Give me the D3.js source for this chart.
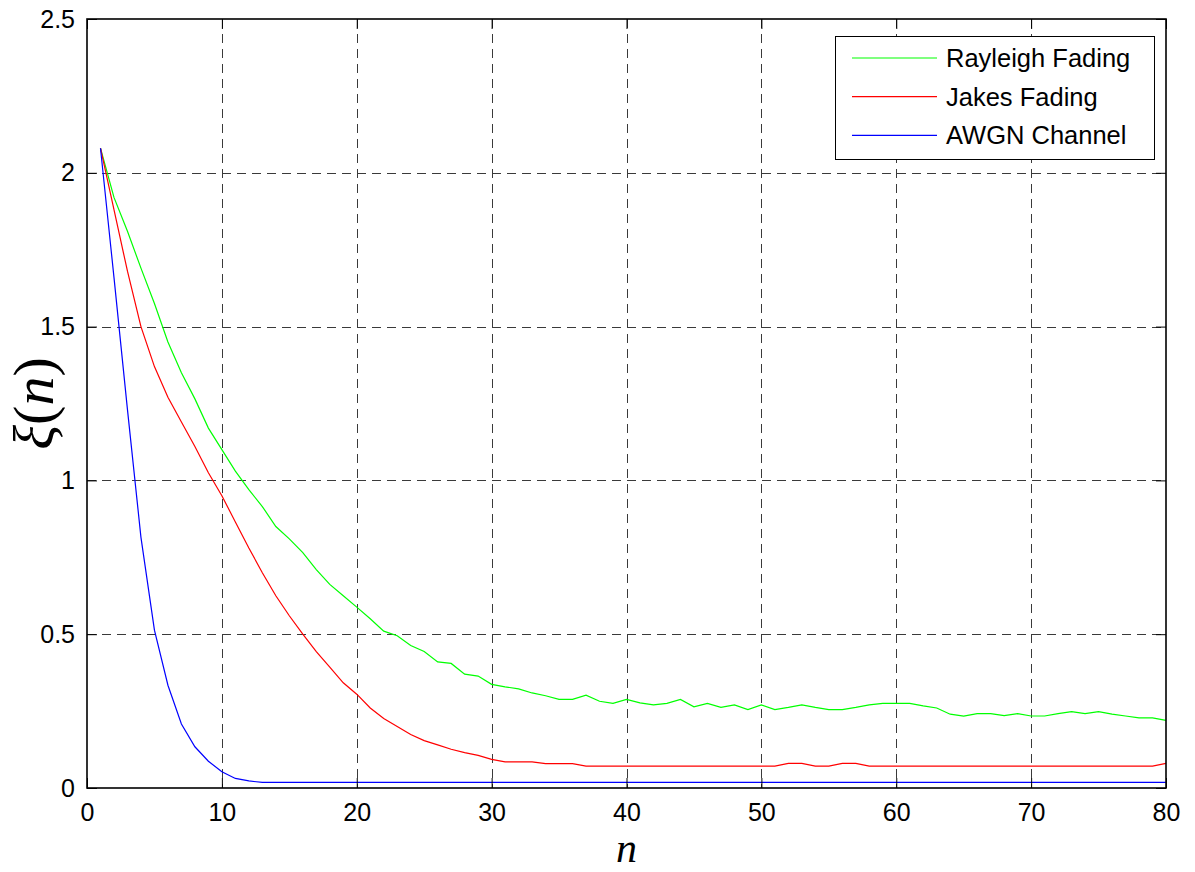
<!DOCTYPE html>
<html>
<head>
<meta charset="utf-8">
<script src="https://cdn.jsdelivr.net/npm/d3@7"></script>
<style>
  html, body { margin: 0; padding: 0; background: #fff; }
  svg { display: block; }
  .tick text { font-family: "Liberation Sans", Arial, Helvetica, sans-serif; }
</style>
</head>
<body>
<svg id="chart" width="1195" height="872"></svg>
<script>
// Iteration index n = 1..80
const n = d3.range(1, 81);

// Mean-square error ξ(n) for each channel model
const rayleigh = [
  2.08, 1.92, 1.81, 1.69, 1.575, 1.45, 1.35, 1.265, 1.17, 1.10,
  1.03, 0.97, 0.915, 0.85, 0.81, 0.765, 0.71, 0.662, 0.625, 0.588,
  0.55, 0.51, 0.495, 0.463, 0.444, 0.41, 0.405, 0.37, 0.364, 0.337,
  0.329, 0.322, 0.309, 0.30, 0.288, 0.288, 0.302, 0.282, 0.275, 0.288,
  0.277, 0.27, 0.275, 0.288, 0.264, 0.275, 0.262, 0.27, 0.255, 0.27,
  0.255, 0.262, 0.27, 0.262, 0.255, 0.255, 0.262, 0.27, 0.275, 0.275,
  0.275, 0.267, 0.26, 0.24, 0.234, 0.242, 0.242, 0.235, 0.242, 0.234,
  0.234, 0.242, 0.248, 0.242, 0.248, 0.24, 0.234, 0.228, 0.228, 0.22
];
const jakes = [
  2.08, 1.88, 1.68, 1.50, 1.37, 1.27, 1.19, 1.11, 1.025, 0.95,
  0.865, 0.78, 0.70, 0.625, 0.56, 0.50, 0.443, 0.393, 0.342, 0.305,
  0.26, 0.226, 0.20, 0.174, 0.154, 0.14, 0.126, 0.115, 0.106, 0.093,
  0.085, 0.085, 0.085, 0.079, 0.079, 0.079, 0.071, 0.071, 0.071, 0.071,
  0.071, 0.071, 0.071, 0.071, 0.071, 0.071, 0.071, 0.071, 0.071, 0.071,
  0.071, 0.08, 0.08, 0.071, 0.071, 0.08, 0.08, 0.071, 0.071, 0.071,
  0.071, 0.071, 0.071, 0.071, 0.071, 0.071, 0.071, 0.071, 0.071, 0.071,
  0.071, 0.071, 0.071, 0.071, 0.071, 0.071, 0.071, 0.071, 0.071, 0.08
];
const awgn = [
  2.08, 1.66, 1.23, 0.815, 0.513, 0.334, 0.208, 0.134, 0.087, 0.053,
  0.031, 0.023, 0.018, 0.018, 0.018, 0.018, 0.018, 0.018, 0.018, 0.018,
  0.018, 0.018, 0.018, 0.018, 0.018, 0.018, 0.018, 0.018, 0.018, 0.018,
  0.018, 0.018, 0.018, 0.018, 0.018, 0.018, 0.018, 0.018, 0.018, 0.018,
  0.018, 0.018, 0.018, 0.018, 0.018, 0.018, 0.018, 0.018, 0.018, 0.018,
  0.018, 0.018, 0.018, 0.018, 0.018, 0.018, 0.018, 0.018, 0.018, 0.018,
  0.018, 0.018, 0.018, 0.018, 0.018, 0.018, 0.018, 0.018, 0.018, 0.018,
  0.018, 0.018, 0.018, 0.018, 0.018, 0.018, 0.018, 0.018, 0.018, 0.018
];

const seriesNames = ["Rayleigh Fading", "Jakes Fading", "AWGN Channel"];
const seriesColors = ["#00ff00", "#ff0000", "#0000ff"];
const seriesValues = [rayleigh, jakes, awgn];

const xTicks = [0, 10, 20, 30, 40, 50, 60, 70, 80];
const yTicks = [0, 0.5, 1, 1.5, 2, 2.5];

// Plot box
const plotL = 87, plotR = 1166, plotT = 19, plotB = 788;
const svg = d3.select("#chart");

const x = d3.scaleLinear().domain([0, 80]).range([plotL, plotR]);
const y = d3.scaleLinear().domain([0, 2.5]).range([plotB, plotT]);

// Dashed grid
const grid = svg.append("g").attr("stroke", "#3a3a3a").attr("stroke-width", 1)
  .attr("stroke-dasharray", "9,6").attr("shape-rendering", "crispEdges");
grid.selectAll(".gx").data(xTicks.slice(1, -1)).join("line")
  .attr("x1", d => Math.round(x(d)) + 0.5).attr("x2", d => Math.round(x(d)) + 0.5)
  .attr("y1", plotT).attr("y2", plotB);
grid.selectAll(".gy").data(yTicks.slice(1, -1)).join("line")
  .attr("y1", d => Math.round(y(d)) + 0.5).attr("y2", d => Math.round(y(d)) + 0.5)
  .attr("x1", plotL).attr("x2", plotR);

// Series lines
const line = d3.line().x((d, i) => x(n[i])).y(d => y(d));
seriesValues.forEach((vals, k) => {
  svg.append("path").datum(vals)
    .attr("fill", "none")
    .attr("stroke", seriesColors[k])
    .attr("stroke-width", 1.2)
    .attr("d", line);
});

// Axes (inward ticks on all four sides)
const tickLen = 10;
const fontSize = 25;
const xAxisB = d3.axisBottom(x).tickValues(xTicks).tickSizeInner(-tickLen).tickSizeOuter(0).tickPadding(15);
const xAxisT = d3.axisTop(x).tickValues(xTicks).tickSizeInner(-tickLen).tickSizeOuter(0).tickFormat("");
const yAxisL = d3.axisLeft(y).tickValues(yTicks).tickSizeInner(-tickLen).tickSizeOuter(0).tickPadding(12).tickFormat(d3.format("~g"));
const yAxisR = d3.axisRight(y).tickValues(yTicks).tickSizeInner(-tickLen).tickSizeOuter(0).tickFormat("");

function styleAxis(g) {
  g.select(".domain").remove();
  g.selectAll(".tick line").attr("stroke", "#000").attr("stroke-width", 1);
  g.selectAll(".tick text").attr("fill", "#000").attr("font-size", fontSize);
}
svg.append("g").attr("transform", `translate(0,${plotB})`).call(xAxisB).call(styleAxis)
  .selectAll(".tick text").attr("dy", "0.72em");
svg.append("g").attr("transform", `translate(0,${plotT})`).call(xAxisT).call(styleAxis);
svg.append("g").attr("transform", `translate(${plotL},0)`).call(yAxisL).call(styleAxis);
svg.append("g").attr("transform", `translate(${plotR},0)`).call(yAxisR).call(styleAxis);

// Axes box
svg.append("rect")
  .attr("x", plotL).attr("y", plotT).attr("width", plotR - plotL).attr("height", plotB - plotT)
  .attr("fill", "none").attr("stroke", "#000").attr("stroke-width", 1.6);

// Axis titles
svg.append("text")
  .attr("x", (plotL + plotR) / 2).attr("y", 862)
  .attr("text-anchor", "middle")
  .attr("font-family", "'Liberation Serif', 'Times New Roman', serif")
  .attr("font-style", "italic").attr("font-size", 42)
  .text("n");

const yTitle = svg.append("text")
  .attr("transform", `translate(53,${(plotT + plotB) / 2}) rotate(-90)`)
  .attr("text-anchor", "middle")
  .attr("font-family", "'Liberation Serif', 'Times New Roman', serif")
  .attr("font-size", 58);
yTitle.append("tspan").attr("font-style", "italic").text("ξ");
yTitle.append("tspan").text("(");
yTitle.append("tspan").attr("font-style", "italic").text("n");
yTitle.append("tspan").text(")");

// Legend
const lg = svg.append("g");
lg.append("rect")
  .attr("x", 835.5).attr("y", 36.5).attr("width", 319).attr("height", 123)
  .attr("fill", "#fff").attr("stroke", "#000").attr("stroke-width", 1);
seriesNames.forEach((name, k) => {
  const ly = 58 + k * 38.7;
  lg.append("line")
    .attr("x1", 852).attr("x2", 937).attr("y1", ly).attr("y2", ly)
    .attr("stroke", seriesColors[k]).attr("stroke-width", 1.2);
  lg.append("text")
    .attr("x", 946).attr("y", ly).attr("dy", "0.35em")
    .attr("font-family", "'Liberation Sans', Arial, Helvetica, sans-serif")
    .attr("font-size", 25.5).attr("fill", "#000")
    .text(name);
});
</script>
</body>
</html>
